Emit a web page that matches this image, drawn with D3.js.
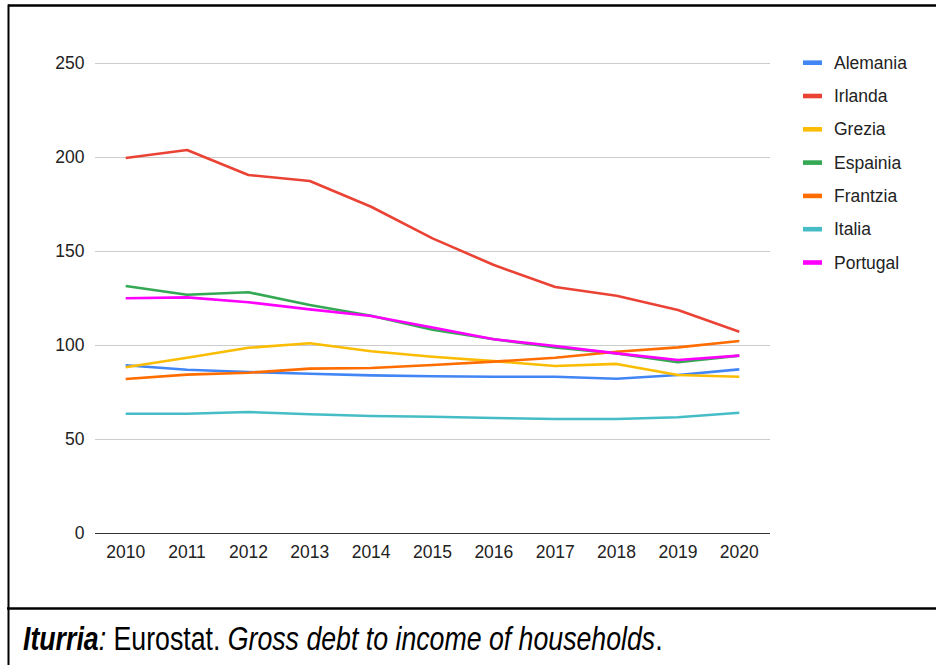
<!DOCTYPE html>
<html>
<head>
<meta charset="utf-8">
<script src="https://cdn.jsdelivr.net/npm/d3@7"></script>
<style>
  html, body { margin: 0; padding: 0; background: #fff; }
  svg { display: block; }
  text { font-family: "Liberation Sans", Arial, sans-serif; fill: #222; }
</style>
</head>
<body>
<svg id="chart" width="936" height="665"></svg>
<script>
// Household gross debt to income ratio (%), 2010–2020
const years = ["2010","2011","2012","2013","2014","2015","2016","2017","2018","2019","2020"];
const seriesNames = ["Alemania","Irlanda","Grezia","Espainia","Frantzia","Italia","Portugal"];
const seriesColors = ["#4285F4","#EA4335","#FBBC04","#34A853","#FF6D01","#46BDC6","#FF00FF"];

const alemania = [89.4, 87.0, 85.8, 84.9, 84.0, 83.5, 83.3, 83.3, 82.2, 84.2, 87.2];
const irlanda  = [199.6, 203.9, 190.6, 187.4, 173.7, 156.9, 142.7, 131.0, 126.4, 118.8, 107.2];
const grezia   = [88.3, 93.4, 98.7, 101.1, 96.8, 93.9, 91.6, 89.0, 90.1, 84.2, 83.3];
const espainia = [131.5, 126.9, 128.2, 121.4, 115.7, 108.3, 103.2, 98.9, 95.7, 91.0, 94.5];
const frantzia = [82.1, 84.4, 85.4, 87.6, 87.9, 89.5, 91.3, 93.4, 96.6, 98.9, 102.3];
const italia   = [63.6, 63.6, 64.5, 63.3, 62.4, 62.0, 61.3, 60.8, 60.8, 61.7, 64.1];
const portugal = [125.0, 125.5, 122.9, 119.1, 115.6, 109.5, 103.2, 99.6, 95.7, 92.2, 94.5];

const yTicks = [0, 50, 100, 150, 200, 250];

const seriesValues = [alemania, irlanda, grezia, espainia, frantzia, italia, portugal];

const svg = d3.select("#chart");

// frame around the chart and the caption strip
svg.append("line").attr("x1", 8).attr("x2", 936).attr("y1", 5.5).attr("y2", 5.5)
  .attr("stroke", "#000").attr("stroke-width", 2.5);
svg.append("line").attr("x1", 8.5).attr("x2", 8.5).attr("y1", 4.5).attr("y2", 665)
  .attr("stroke", "#000").attr("stroke-width", 2);
svg.append("line").attr("x1", 7).attr("x2", 936).attr("y1", 608.5).attr("y2", 608.5)
  .attr("stroke", "#000").attr("stroke-width", 2.5);

const x = d3.scalePoint().domain(years).range([95, 770]).padding(0.5);
const y = d3.scaleLinear().domain([0, 250]).range([533.3, 63.3]);

// horizontal gridlines
svg.append("g").selectAll("line").data(yTicks.filter(d => d > 0)).join("line")
  .attr("x1", 95).attr("x2", 770)
  .attr("y1", d => Math.round(y(d)) + 0.5).attr("y2", d => Math.round(y(d)) + 0.5)
  .attr("stroke", "#cccccc").attr("stroke-width", 1);

// y-axis tick labels
svg.append("g").selectAll("text").data(yTicks).join("text")
  .attr("x", 84.5).attr("y", d => y(d))
  .attr("text-anchor", "end").attr("dominant-baseline", "central")
  .attr("font-size", "17.5px")
  .text(d => d);

// baseline
svg.append("line").attr("x1", 95).attr("x2", 770)
  .attr("y1", Math.round(y(0)) + 0.5).attr("y2", Math.round(y(0)) + 0.5)
  .attr("stroke", "#333").attr("stroke-width", 1.2);

// x-axis tick labels
svg.append("g").selectAll("text").data(years).join("text")
  .attr("x", d => x(d)).attr("y", 551.5)
  .attr("text-anchor", "middle").attr("dominant-baseline", "central")
  .attr("font-size", "17.5px")
  .text(d => d);

// series lines
const line = d3.line().x((d, i) => x(years[i])).y(d => y(d));
svg.append("g").selectAll("path").data(seriesValues).join("path")
  .attr("d", d => line(d))
  .attr("fill", "none")
  .attr("stroke", (d, i) => seriesColors[i])
  .attr("stroke-width", 2.6)
  .attr("stroke-linejoin", "round")
  .attr("stroke-linecap", "butt");

// legend
const legend = svg.append("g").selectAll("g").data(seriesNames).join("g")
  .attr("transform", (d, i) => `translate(803, ${62.7 + i * 33.3})`);
legend.append("rect")
  .attr("x", 0).attr("y", -2.3).attr("width", 19).attr("height", 4.6)
  .attr("fill", (d, i) => seriesColors[i]);
legend.append("text")
  .attr("x", 31).attr("y", 0)
  .attr("dominant-baseline", "central")
  .attr("font-size", "17.5px")
  .text(d => d);

// source caption (tall, narrow lettering)
const cap = svg.append("text")
  .attr("transform", "translate(23, 650) scale(1, 1.25)")
  .attr("font-size", "26.7px").style("fill", "#000");
cap.append("tspan").attr("font-weight", "bold").attr("font-style", "italic").text("Iturria");
cap.append("tspan").attr("font-style", "italic").text(":");
cap.append("tspan").text(" Eurostat. ");
cap.append("tspan").attr("font-style", "italic").text("Gross debt to income of households");
cap.append("tspan").text(".");
</script>
</body>
</html>
